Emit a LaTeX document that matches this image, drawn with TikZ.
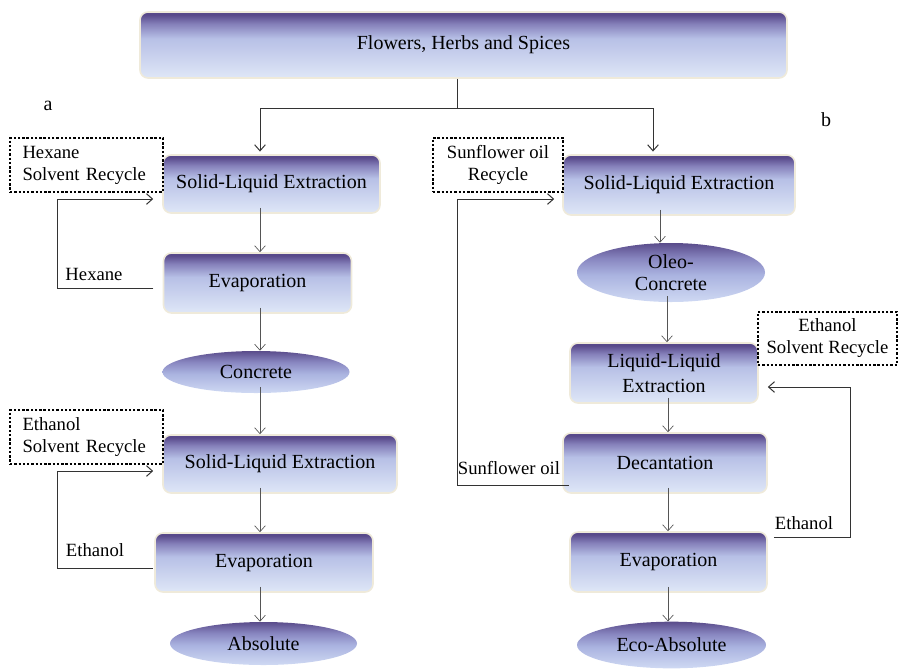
\documentclass[tikz,border=0pt]{standalone}
\usepackage{fontspec}
\setmainfont{Liberation Serif}
\usetikzlibrary{shapes.geometric,arrows.meta}
\definecolor{shtop}{HTML}{58498A}
\definecolor{shup}{HTML}{8580BA}
\definecolor{shmid}{HTML}{B7C0E6}
\definecolor{shbot}{HTML}{DFE7F7}
\definecolor{eltop}{HTML}{5A4C8B}
\definecolor{elup}{HTML}{8886C0}
\definecolor{elmid}{HTML}{AAB3E0}
\definecolor{elbot}{HTML}{CFD9F3}
\definecolor{glow}{HTML}{EFEADA}
\definecolor{flowgray}{HTML}{555555}
\definecolor{fbgray}{HTML}{333333}
\pgfdeclareverticalshading{boxshade}{100bp}{color(0bp)=(shbot); color(25bp)=(shbot); color(55bp)=(shmid); color(66bp)=(shup); color(73bp)=(shtop); color(100bp)=(shtop)}
\pgfdeclareverticalshading{ellshade}{100bp}{color(0bp)=(elbot); color(25bp)=(elbot); color(48bp)=(elmid); color(62bp)=(elup); color(75bp)=(eltop); color(100bp)=(eltop)}
\tikzset{
  boxtxt/.style={font=\fontsize{15}{18}\selectfont},
  procbox/.style={boxtxt, rectangle, rounded corners=6pt, shading=boxshade, draw=glow, line width=1.2pt, inner sep=0pt, align=center},
  prodell/.style={boxtxt, ellipse, shading=ellshade, inner sep=0pt, align=center},
  recyclebox/.style={draw=black, line width=1.8pt, dash pattern=on 1.8pt off 1.4pt, inner ysep=0pt,
     font=\fontsize{14}{16.5}\selectfont, minimum height=40.5pt},
  lbl/.style={font=\fontsize{14}{16.5}\selectfont, inner sep=0pt},
  sidelbl/.style={font=\fontsize{15}{18}\selectfont, inner sep=0pt},
  flow/.style={draw=flowgray, line width=0.5pt, -{Straight Barb[length=4.5pt,width=8pt]}, shorten <=-4.5pt},
  fb/.style={draw=fbgray, line width=0.75pt},
  fbarrow/.style={fb, -{Straight Barb[length=4.5pt,width=8pt]}}
}
\begin{document}
\begin{tikzpicture}[x=0.75pt,y=-0.75pt]
\useasboundingbox (0,0) rectangle (899,669);
% top
\node[procbox, minimum width=485.25pt, minimum height=49.5pt] (top) at (463.5,45) {Flowers, Herbs and Spices};
% left column (a)
\node[procbox, minimum width=162.75pt, minimum height=43.5pt] (sle1) at (271.5,184) {Solid-Liquid Extraction};
\node[procbox, minimum width=141pt, minimum height=45pt] (evap1) at (257.5,283) {Evaporation};
\node[prodell, minimum width=140.25pt, minimum height=31.5pt] (conc) at (256,372) {Concrete};
\node[procbox, minimum width=175.5pt, minimum height=43.5pt] (sle2) at (280,464) {Solid-Liquid Extraction};
\node[procbox, minimum width=163.5pt, minimum height=44.25pt] (evap2) at (264,562.5) {Evaporation};
\node[prodell, minimum width=140.25pt, minimum height=32.25pt] (abs) at (263.5,643.5) {Absolute};
% right column (b)
\node[procbox, minimum width=174pt, minimum height=45pt] (sle3) at (679,185) {Solid-Liquid Extraction};
\node[prodell, minimum width=141pt, minimum height=44.25pt, text depth=0pt] (oleo) at (671,272.5) {Oleo-\\[-1pt]Concrete};
\node[procbox, minimum width=141pt, minimum height=45pt] (lle) at (664,373) {Liquid-Liquid\\[1pt]Extraction};
\node[procbox, minimum width=153pt, minimum height=45pt] (dec) at (665,463) {Decantation};
\node[procbox, minimum width=147.75pt, minimum height=45pt] (evap3) at (668.5,562) {Evaporation};
\node[prodell, minimum width=141.75pt, minimum height=35pt] (eco) at (671.5,645) {Eco-Absolute};
% recycle boxes
\node[recyclebox, minimum width=114.75pt, text width=96pt, inner xsep=9.4pt, align=left] (hexbox) at (86.5,165) {Hexane\\Solvent Recycle};
\node[recyclebox, minimum width=114.75pt, text width=96pt, inner xsep=9.4pt, align=left] (ethbox1) at (86.5,437) {Ethanol\\Solvent Recycle};
\node[recyclebox, minimum width=97.5pt, inner xsep=0pt, align=center] (sunbox) at (498,165) {Sunflower oil\\Recycle};
\node[recyclebox, minimum width=104.25pt, minimum height=39.75pt, inner xsep=0pt, align=center] (ethbox2) at (827.5,338.5) {Ethanol\\Solvent Recycle};
% labels
\node[sidelbl] (la) at (48,106) {a};
\node[sidelbl] (lb) at (826,120) {b};
\node[lbl] (lhex) at (94,274) {Hexane};
\node[lbl] (leth1) at (95,550) {Ethanol};
\node[lbl] (lsun) at (509,468) {Sunflower oil};
\node[lbl] (leth2) at (804,523) {Ethanol};
% split from top
\coordinate (j) at (457,108);
\coordinate (jl) at (260,108);
\coordinate (jr) at (653,108);
\draw[fb] (top.south -| j) -- (j);
\draw[fbarrow, shorten >=2pt] (j) -- (jl) -- (sle1.north -| jl);
\draw[fbarrow, shorten >=2pt] (j) -- (jr) -- (sle3.north -| jr);
% main flow arrows
\coordinate (ca) at (260,0);
\coordinate (cb) at (660,0);
\coordinate (cc) at (667,0);
\coordinate (cd) at (668,0);
\draw[flow] (sle1.south -| ca) -- (evap1.north -| ca);
\draw[flow] (evap1.south -| ca) -- (conc.north -| ca);
\draw[flow] (conc.south -| ca) -- (sle2.north -| ca);
\draw[flow] (sle2.south -| ca) -- (evap2.north -| ca);
\draw[flow] (evap2.south -| ca) -- (abs.north -| ca);
\draw[flow] (sle3.south -| cb) -- (oleo.north -| cb);
\draw[flow] (oleo.south -| cc) -- (lle.north -| cc);
\draw[flow] (lle.south -| cd) -- (dec.north -| cd);
\draw[flow] (dec.south -| cd) -- (evap3.north -| cd);
\draw[flow] (evap3.south -| cd) -- (eco.north -| cd);
% feedback loops
\coordinate (hb) at (57,288);
\coordinate (ht) at (57,199);
\draw[fbarrow, shorten <=7pt, shorten >=6.75pt] (evap1.west |- hb) -- (hb) -- (ht) -- (sle1.west |- ht);
\coordinate (eb) at (57,568);
\coordinate (et) at (57,471);
\draw[fbarrow, shorten <=0.75pt, shorten >=6.75pt] (evap2.west |- eb) -- (eb) -- (et) -- (sle2.west |- et);
\coordinate (sb) at (457,485);
\coordinate (st) at (457,199);
\draw[fbarrow, shorten <=-5pt, shorten >=6pt] (dec.west |- sb) -- (sb) -- (st) -- (sle3.west |- st);
\coordinate (rb) at (850,537);
\coordinate (rt) at (850,387);
\draw[fbarrow, shorten <=4.5pt, shorten >=6.75pt] (evap3.east |- rb) -- (rb) -- (rt) -- (lle.east |- rt);
\end{tikzpicture}
\end{document}
